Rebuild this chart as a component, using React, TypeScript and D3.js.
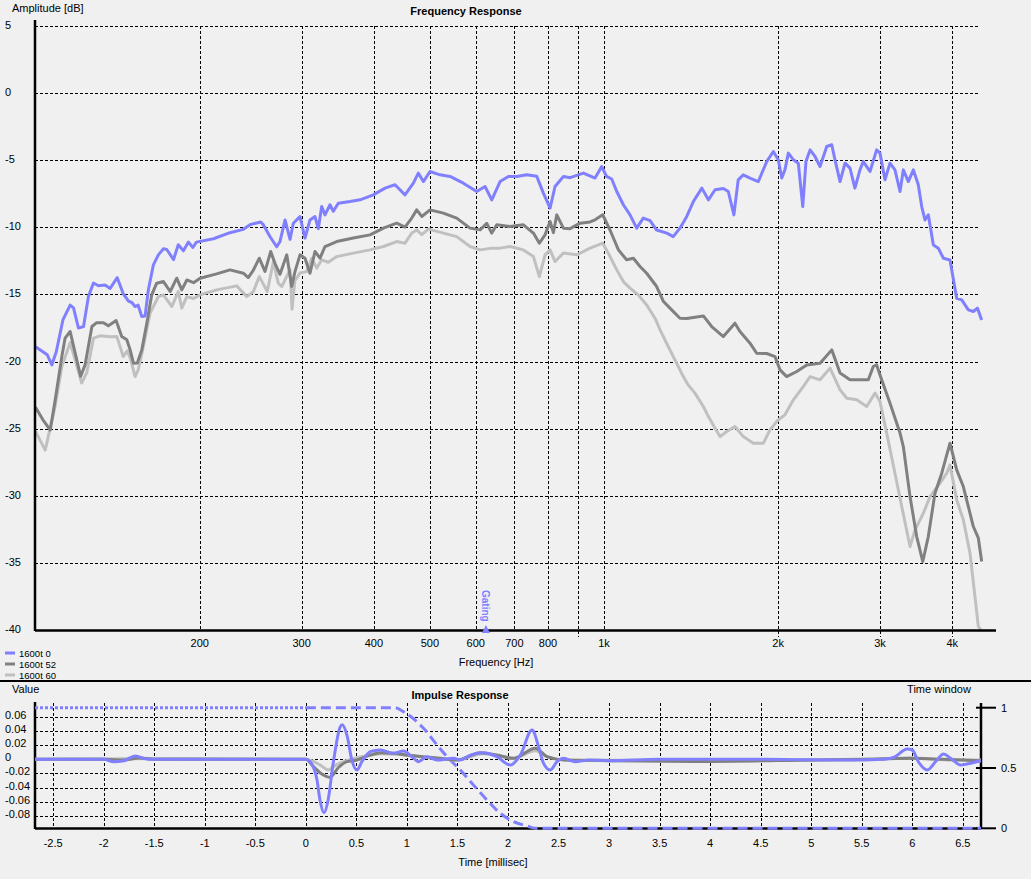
import React from 'react';
import * as d3 from 'd3';

// ---------- data ----------
const seriesNames = ['1600t 0', '1600t 52', '1600t 60'];
const seriesColors = ['#8080ff', '#808080', '#c0c0c0'];

const freqTicks = [200, 300, 400, 500, 600, 700, 800, 900, 1000, 2000, 3000, 4000];
const freqTickLabels = ['200', '300', '400', '500', '600', '700', '800', '', '1k', '2k', '3k', '4k'];
const dbTicks = [5, 0, -5, -10, -15, -20, -25, -30, -35, -40];
const timeTicks = [-2.5, -2, -1.5, -1, -0.5, 0, 0.5, 1, 1.5, 2, 2.5, 3, 3.5, 4, 4.5, 5, 5.5, 6, 6.5];
const valueTicks = [0.06, 0.04, 0.02, 0, -0.02, -0.04, -0.06, -0.08];
const windowTicks = [1, 0.5, 0];
const gatingFreq = 625;

const fr0: [number, number][] = [[104,-18.9],[109,-19.5],[111,-20.25],[113,-19.25],[116,-16.9],[119.4,-15.8],[121,-16.0],[123.4,-17.5],[125.9,-17.4],[128.4,-15.15],[131,-14.15],[133.6,-14.35],[137.2,-14.3],[140,-14.55],[144,-13.75],[147.5,-14.95],[150.6,-15.5],[152.6,-15.6],[154.6,-15.9],[156.5,-15.8],[158.8,-16.65],[160.9,-16.6],[163,-14.65],[166.3,-12.8],[169.6,-12.05],[173.1,-11.6],[175.4,-11.65],[180.2,-12.4],[183.6,-11.3],[187.4,-11.75],[191.2,-11.1],[194.6,-11.5],[197.4,-11.1],[211.2,-10.85],[225.6,-10.4],[237.9,-10.15],[244.3,-9.8],[254.9,-9.6],[257.6,-9.8],[264.6,-10.7],[271.7,-11.45],[275.3,-11.05],[280.9,-9.45],[286.5,-10.9],[290.3,-9.7],[298.1,-9.2],[304.1,-10.8],[310.2,-9.45],[316.4,-9.2],[320.6,-10.1],[325,-8.45],[329.3,-9.07],[335.9,-8.32],[340.4,-8.8],[347.2,-8.2],[363.8,-8.08],[378.6,-7.95],[399.1,-7.58],[418.2,-7.08],[435.1,-6.83],[452.8,-7.58],[468.1,-6.71],[477.4,-5.96],[487.1,-6.59],[500.2,-5.84],[520.6,-6.09],[541.7,-6.21],[571.2,-6.71],[602.4,-7.33],[622.7,-6.96],[639.6,-7.95],[661.1,-6.59],[683.4,-6.21],[706.5,-6.21],[735.2,-6.09],[765.1,-6.2],[785.5,-7.45],[806.7,-8.57],[822.8,-6.96],[850.7,-6.21],[873.6,-6.3],[921.2,-5.96],[964.9,-6.33],[990.9,-5.47],[1010,-6.21],[1031,-6.4],[1052,-7.33],[1080,-8.32],[1109,-9.07],[1139,-10.06],[1169,-9.31],[1201,-9.5],[1233,-10.2],[1284,-10.43],[1317,-10.69],[1353,-10.06],[1390,-9.19],[1427,-8.08],[1476,-7.08],[1515,-7.95],[1556,-7.2],[1608,-7.1],[1640,-7.33],[1677,-9.07],[1706,-6.46],[1741,-6.09],[1788,-6.33],[1848,-6.59],[1911,-5.1],[1962,-4.35],[2001,-4.97],[2029,-6.33],[2055,-5.7],[2083,-4.47],[2125,-4.97],[2167,-5.22],[2206,-8.45],[2234,-5.1],[2271,-4.23],[2316,-4.72],[2363,-5.47],[2427,-3.98],[2476,-3.85],[2508,-4.97],[2559,-6.59],[2610,-5.22],[2662,-5.59],[2715,-7.08],[2770,-5.72],[2807,-5.1],[2883,-5.84],[2960,-4.23],[3000,-4.47],[3060,-6.46],[3122,-5.22],[3184,-5.72],[3249,-7.33],[3292,-5.72],[3358,-6.59],[3426,-5.72],[3494,-6.83],[3542,-8.45],[3588,-9.45],[3636,-9.07],[3710,-11.31],[3784,-11.55],[3861,-12.3],[3964,-12.43],[4043,-14.53],[4071,-15.28],[4153,-15.4],[4264,-16.15],[4350,-16.27],[4421,-16.02],[4497,-16.9]];

const fr52: [number, number][] = [[104,-23.4],[107,-24.3],[110.3,-25.1],[112.5,-22.85],[115.5,-19.63],[117,-18.26],[119.4,-17.76],[121.8,-19.37],[124.5,-21.1],[126.7,-20.25],[130.2,-17.39],[132.7,-17.1],[136.3,-17.1],[139,-17.34],[143.4,-16.95],[146.6,-18.14],[149.6,-18.38],[151.6,-19.13],[153.6,-20.12],[156,-20.1],[158.8,-19.13],[162,-17.14],[165.2,-15.03],[168.5,-14.16],[173.1,-14.04],[177.8,-14.78],[182.5,-13.79],[186.2,-14.66],[190,-13.92],[195.1,-14.12],[200.3,-13.79],[213.9,-13.47],[225.6,-13.17],[237.9,-13.42],[242.6,-13.74],[247.5,-13.2],[253.5,-12.3],[259.3,-13.29],[265.3,-11.8],[269.9,-12.7],[275.3,-13.5],[282.8,-12.05],[288.4,-14.41],[292.2,-13.3],[298.1,-12.05],[304.1,-12.3],[310.2,-13.42],[316.4,-11.8],[322.8,-12.3],[329.3,-11.43],[345,-11.06],[368.6,-10.8],[393.9,-10.56],[415.5,-10.06],[438.1,-9.69],[452.8,-9.98],[465.1,-9.31],[474.4,-8.7],[484,-9.19],[500.2,-8.7],[527.5,-8.94],[556.3,-9.31],[586.6,-10.06],[610.5,-10.19],[627,-9.7],[639.6,-10.43],[652.4,-9.8],[687.9,-9.94],[725.4,-9.81],[754.9,-10.43],[773,-11.18],[790.7,-10.56],[806.7,-9.56],[817.4,-10.4],[828.5,-9.07],[850.7,-10.06],[873.6,-10.1],[909.1,-9.69],[946,-9.6],[964.9,-9.44],[995,-9.07],[1024,-10.2],[1059,-11.68],[1094,-12.42],[1124,-12.3],[1154,-12.92],[1185,-13.42],[1233,-14.41],[1267,-15.53],[1309,-16.15],[1353,-16.77],[1390,-16.8],[1485,-16.6],[1535,-17.39],[1608,-18.14],[1684,-17.14],[1718,-17.76],[1788,-18.63],[1836,-19.38],[1911,-19.4],[1975,-19.63],[2015,-20.62],[2069,-21.12],[2154,-20.74],[2241,-20.25],[2363,-20.12],[2476,-19.13],[2559,-20.86],[2662,-21.36],[2752,-21.36],[2864,-21.36],[2921,-20.37],[2960,-20.25],[3020,-21.36],[3122,-23.1],[3249,-25.33],[3292,-26.33],[3381,-30.06],[3472,-33.04],[3557,-34.9],[3636,-33.04],[3734,-29.81],[3836,-28.32],[3964,-26.08],[4071,-28.07],[4180,-29.31],[4350,-32.29],[4438,-33.16],[4497,-34.9]];

const fr60: [number, number][] = [[104,-25.2],[108.1,-26.6],[112.5,-23.3],[115.5,-20.37],[119.4,-18.58],[121.8,-19.87],[125,-21.6],[127.6,-20.8],[131,-18.26],[134.5,-18.08],[140,-18.15],[143.8,-18.14],[147.5,-19.63],[149.9,-19.2],[152,-19.87],[154.6,-21.12],[156.6,-20.6],[159.8,-18.88],[164.1,-16.4],[169.6,-15.16],[173.1,-15.03],[179,-15.9],[183.6,-14.78],[186.2,-16.02],[190,-15.16],[195.1,-15.3],[200.3,-15.03],[213.9,-14.66],[231.7,-14.36],[241.1,-15.16],[247.5,-14.8],[253.5,-13.67],[261.7,-14.78],[268.1,-12.55],[273.4,-14.16],[277.2,-14.41],[286.5,-13.17],[288.8,-16.1],[292,-14.0],[298.1,-13.4],[306.1,-13.3],[312.3,-12.3],[318.6,-13.04],[325,-12.42],[333.7,-12.6],[345,-12.18],[368.6,-11.92],[393.9,-11.68],[415.5,-11.43],[438.1,-11.06],[452.8,-11.18],[465.1,-10.43],[474.4,-10.19],[484,-10.55],[497,-10.13],[527.5,-10.43],[556.3,-10.69],[586.6,-11.43],[610.5,-11.68],[639.6,-11.55],[661.1,-11.55],[687.9,-11.43],[725.4,-11.68],[754.9,-12.18],[773,-13.67],[790.7,-12.05],[806.7,-11.68],[822.8,-12.55],[850.7,-11.92],[897.2,-12.05],[946,-11.55],[995,-11.18],[1017,-11.92],[1052,-13.17],[1080,-14.04],[1109,-14.53],[1146,-15.03],[1185,-15.78],[1225,-16.77],[1250,-17.64],[1291,-18.88],[1335,-20.12],[1371,-21.12],[1398,-21.74],[1436,-22.35],[1485,-23.35],[1515,-24.1],[1556,-24.96],[1587,-25.59],[1630,-25.21],[1684,-24.84],[1741,-25.59],[1812,-26.08],[1886,-26.08],[1936,-25.09],[2001,-24.34],[2055,-23.97],[2125,-22.85],[2211,-21.86],[2271,-21.12],[2363,-21.36],[2459,-20.49],[2559,-22.11],[2628,-22.73],[2734,-22.85],[2845,-23.35],[2941,-22.35],[3000,-22.98],[3081,-25.33],[3184,-28.32],[3271,-30.8],[3381,-33.78],[3449,-32.54],[3565,-31.3],[3661,-30.06],[3810,-29.06],[3913,-28.32],[3964,-27.7],[4071,-30.3],[4180,-31.79],[4293,-34.28],[4438,-39.75],[4485,-40]];

const ir0: [number, number][] = [[-2.68,0],[-2.0,0],[-1.9,-0.0034],[-1.8,-0.002],[-1.69,0.0047],[-1.56,0],[-0.5,0],[0,0],[0.04,-0.003],[0.11,-0.029],[0.14,-0.058],[0.18,-0.0757],[0.22,-0.058],[0.27,-0.006],[0.34,0.046],[0.36,0.049],[0.41,0.032],[0.455,-0.001],[0.505,-0.0152],[0.554,-0.0034],[0.637,0.0108],[0.736,0.0132],[0.867,0.0085],[0.966,0.0118],[1.05,0.0037],[1.115,-0.0034],[1.198,0.0037],[1.297,-0.001],[1.461,0.0014],[1.528,-0.001],[1.627,0.006],[1.758,0.0094],[1.89,0.0037],[2.023,-0.0081],[2.122,0.006],[2.238,0.0416],[2.303,0.0179],[2.352,-0.0057],[2.419,-0.0152],[2.485,-0.0034],[2.55,0.0014],[2.666,-0.0034],[2.8,-0.001],[3.0,-0.002],[3.5,0],[4.5,0],[5.39,-0.001],[5.72,0],[5.82,0.003],[5.95,0.0146],[6.0,0.0132],[6.06,-0.0034],[6.15,-0.0152],[6.23,-0.0034],[6.31,0.0075],[6.38,0.0014],[6.48,-0.0081],[6.54,-0.0067],[6.68,-0.002]];

const ir52: [number, number][] = [[-2.68,0],[-2.0,0],[-1.8,-0.001],[-1.65,0.002],[-1.5,0],[0,0],[0.075,-0.0105],[0.15,-0.02],[0.24,-0.0255],[0.32,-0.012],[0.406,-0.0034],[0.505,-0.001],[0.637,0.006],[0.736,0.0094],[0.867,0.0085],[1.0,0.006],[1.164,0.0037],[1.33,0.0014],[1.495,-0.001],[1.726,0.0094],[1.89,0.006],[2.055,0.0014],[2.27,0.0156],[2.386,0.0037],[2.55,-0.001],[3.0,-0.002],[4.0,-0.003],[5.0,-0.001],[5.5,0],[5.99,0.0014],[6.3,0.0],[6.68,-0.002]];

const ir60: [number, number][] = [[-2.68,0],[-1.2,0.001],[0,0],[0.14,-0.008],[0.22,-0.015],[0.3,-0.008],[0.4,-0.002],[0.6,0.005],[0.75,0.008],[0.9,0.007],[1.1,0.004],[1.3,0.001],[1.5,-0.001],[1.75,0.008],[1.9,0.005],[2.05,0.001],[2.27,0.012],[2.4,0.003],[2.6,-0.001],[4,-0.002],[5.5,-0.001],[6,0.002],[6.4,-0.001],[6.68,-0.001]];

const timeWindow: [number, number][] = [[-2.68,1],[0,1],[0.88,1],[0.966,0.967],[1.164,0.829],[1.297,0.691],[1.396,0.594],[1.528,0.483],[1.659,0.358],[1.792,0.234],[1.924,0.124],[2.055,0.055],[2.188,0.019],[2.27,0],[6.68,0]];

// ---------- layout ----------
const W = 1031, H = 879;
const FONT = '"Liberation Sans", Arial, sans-serif';

export default function App() {
  const fx = d3.scaleLog().domain([103.8, 4467]).range([35, 980]);
  const fy = d3.scaleLinear().domain([-40, 5]).range([630, 26]);
  const tx = d3.scaleLinear().domain([-2.68, 6.68]).range([35, 981]);
  const vy = d3.scaleLinear().domain([-0.098, 0.08]).range([828.4, 702.9]);
  const wy = d3.scaleLinear().domain([0, 1]).range([828.3, 707.7]);

  const frLine = d3.line<[number, number]>().x(d => fx(d[0])).y(d => fy(d[1]));
  const irLine = d3.line<[number, number]>().x(d => tx(d[0])).y(d => vy(d[1])).curve(d3.curveMonotoneX);
  const wLine = d3.line<[number, number]>().x(d => tx(d[0])).y(d => wy(d[1])).curve(d3.curveMonotoneX);

  const frSeries = [fr0, fr52, fr60];
  const irSeries = [ir0, ir52, ir60];
  const windowPre = timeWindow.filter(d => d[0] <= 0);
  const windowPost = timeWindow.filter(d => d[0] >= 0);

  const gx = fx(gatingFreq);

  return (
    <svg width={W} height={H} style={{ position: 'absolute', left: 0, top: 0, display: 'block' }}
      fontFamily={FONT} fontSize={11}>
      <rect x={0} y={0} width={W} height={H} fill="#f0f0f0" />

      {/* ===== Frequency response ===== */}
      <text x={466} y={15} textAnchor="middle" fontWeight="bold" fontSize={11}>Frequency Response</text>
      <text x={12} y={12} fontSize={11}>Amplitude [dB]</text>

      {dbTicks.filter(v => v > -40).map(v => (
        <line key={'hg' + v} x1={35} x2={980} y1={Math.round(fy(v)) + 0.5} y2={Math.round(fy(v)) + 0.5}
          stroke="#000" strokeWidth={1} strokeDasharray="3,2" />
      ))}
      {freqTicks.map((f, i) => (
        <line key={'vg' + f} x1={Math.round(fx(f)) + 0.5} x2={Math.round(fx(f)) + 0.5} y1={26}
          y2={freqTickLabels[i] === '' || f >= 2000 ? 637 : 630}
          stroke="#000" strokeWidth={1} strokeDasharray="3,2" />
      ))}
      {dbTicks.map(v => (
        <text key={'yl' + v} x={5} y={fy(v) + 3}>{v}</text>
      ))}
      {freqTicks.map((f, i) => freqTickLabels[i] ? (
        <text key={'xl' + f} x={fx(f)} y={647} textAnchor="middle">{freqTickLabels[i]}</text>
      ) : null)}
      <text x={496} y={666} textAnchor="middle">Frequency [Hz]</text>

      {[2, 1, 0].map(i => (
        <path key={'fr' + i} d={frLine(frSeries[i]) || ''} fill="none" stroke={seriesColors[i]}
          strokeWidth={3} strokeLinejoin="round" />
      ))}

      <line x1={35} x2={35} y1={20} y2={631} stroke="#000" strokeWidth={2.5} />
      <line x1={35} x2={996} y1={630.5} y2={630.5} stroke="#000" strokeWidth={2.5} />

      {/* gating marker */}
      <path d={`M${gx - 4},${633} L${gx + 4},${633} L${gx},${625} Z`} fill="#8080ff" />
      <text x={gx} y={590} transform={`rotate(90 ${gx} 590)`} fill="#8080ff" fontWeight="bold" fontSize={10}
        dy={4}>Gating</text>

      {/* legend */}
      {seriesNames.map((n, i) => (
        <g key={'lg' + i}>
          <line x1={5} x2={15} y1={653 + i * 11} y2={653 + i * 11} stroke={seriesColors[i]} strokeWidth={3} />
          <text x={19} y={656.5 + i * 11} fontSize={9.5}>{n}</text>
        </g>
      ))}

      {/* separator */}
      <line x1={0} x2={W} y1={681} y2={681} stroke="#000" strokeWidth={2} />

      {/* ===== Impulse response ===== */}
      <text x={460} y={699} textAnchor="middle" fontWeight="bold" fontSize={11}>Impulse Response</text>
      <text x={12} y={693}>Value</text>
      <text x={939} y={693} textAnchor="middle">Time window</text>

      {valueTicks.map(v => (
        <line key={'ivh' + v} x1={35} x2={981} y1={Math.round(vy(v)) + 0.5} y2={Math.round(vy(v)) + 0.5}
          stroke="#000" strokeWidth={1} strokeDasharray="3,2" />
      ))}
      {timeTicks.map(t => (
        <line key={'itv' + t} x1={Math.round(tx(t)) + 0.5} x2={Math.round(tx(t)) + 0.5} y1={703} y2={828}
          stroke="#000" strokeWidth={1} strokeDasharray="3,2" />
      ))}
      {valueTicks.map(v => (
        <text key={'ivl' + v} x={5} y={vy(v) + 2}>{v}</text>
      ))}
      {timeTicks.map(t => (
        <text key={'itl' + t} x={tx(t)} y={847} textAnchor="middle">{t}</text>
      ))}
      <text x={493} y={866} textAnchor="middle">Time [millisec]</text>

      <line x1={35} x2={35} y1={702} y2={829} stroke="#000" strokeWidth={2.5} />
      <line x1={35} x2={981} y1={828.5} y2={828.5} stroke="#000" strokeWidth={2.5} />
      <line x1={981} x2={981} y1={703} y2={829} stroke="#000" strokeWidth={2.5} />
      {windowTicks.map(w => (
        <g key={'wt' + w}>
          <line x1={976} x2={996} y1={wy(w)} y2={wy(w)} stroke="#000" strokeWidth={2} />
          <text x={1001} y={wy(w) + 4}>{w}</text>
        </g>
      ))}

      <path d={wLine(windowPre) || ''} fill="none" stroke="#8080ff" strokeWidth={3} strokeDasharray="3,2" />
      <path d={wLine(windowPost) || ''} fill="none" stroke="#8080ff" strokeWidth={3} strokeDasharray="10,5" />

      {[2, 1, 0].map(i => (
        <path key={'ir' + i} d={irLine(irSeries[i]) || ''} fill="none" stroke={seriesColors[i]}
          strokeWidth={3} strokeLinejoin="round" />
      ))}
    </svg>
  );
}
